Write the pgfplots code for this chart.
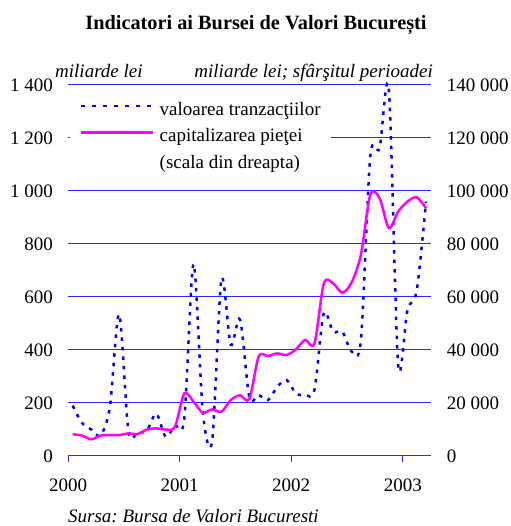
\documentclass[border=0pt]{standalone}
\usepackage{fontspec}
\setmainfont{Liberation Serif}
\usepackage{pgfplots}
\pgfplotsset{compat=1.18}
\definecolor{sblue}{RGB}{0,0,255}
\definecolor{gblue}{RGB}{40,40,255}
\definecolor{mypink}{RGB}{255,0,255}
\newcommand{\fs}{\fontsize{19bp}{23bp}\selectfont}
\frenchspacing
\begin{document}
\begin{tikzpicture}
\useasboundingbox (0bp,0bp) rectangle (511bp,526bp);
\node[anchor=base, inner sep=0pt, font=\fontsize{20.3bp}{24bp}\selectfont\bfseries] at (256bp,496bp) {Indicatori ai Bursei de Valori București};
\node[anchor=base west, inner sep=0pt, font=\fs\itshape] at (55bp,448.3bp) {miliarde lei};
\node[anchor=base east, inner sep=0pt, font=\fs\itshape] at (433bp,448.3bp) {miliarde lei; sfârşitul perioadei};
\node[anchor=base west, inner sep=0pt, font=\fs\itshape] at (68bp,4bp) {Sursa: Bursa de Valori Bucuresti};

\begin{axis}[
  at={(68bp,70bp)}, anchor=south west, scale only axis,
  width=362.7bp, height=371bp,
  xmin=0, xmax=39, ymin=0, ymax=1400, clip=false,
  axis x line*=bottom, axis y line*=left,
  x axis line style={-, draw=gblue, line width=1bp},
  y axis line style={draw=none},
  xtick={0,12,24,36}, xticklabels={2000,2001,2002,2003},
  ytick={0,200,400,600,800,1000,1200,1400},
  yticklabels={0,200,400,600,800,1 000,1 200,1 400},
  scaled y ticks=false,
  xtick align=outside, ytick align=inside,
  major tick length=6bp,
  tick style={draw=gblue, line width=1bp},
  ymajorgrids, grid style={draw=gblue, line width=1bp},
  ticklabel style={font=\fs},
  yticklabel style={anchor=east, inner sep=0pt, xshift=-15bp},
  xticklabel style={anchor=north, inner sep=0pt, yshift=-17bp},
]
\addplot[sblue, line width=2.5bp, dash pattern=on 3.5bp off 6bp, smooth, tension=0.5] coordinates {
(0.5,190) (1.5,125) (2.5,100) (3.5,78) (4.5,185) (5.5,535) (6.5,95) (7.5,88)
(8.5,98) (9.5,160) (10.5,73) (11.5,115) (12.5,140) (13.5,725) (14.5,165) (15.5,58)
(16.5,668) (17.5,420) (18.5,515) (19.5,222) (20.5,230) (21.5,211) (22.5,261) (23.5,287)
(24.5,237) (25.5,230) (26.5,250) (27.5,538) (28.5,469) (29.5,469) (30.5,394) (31.5,438)
(32.5,1130) (33.5,1161) (34.5,1382) (35.5,345) (36.5,551) (37.5,626) (38.5,960)
};
\end{axis}

\begin{axis}[
  at={(68bp,70bp)}, anchor=south west, scale only axis,
  width=362.7bp, height=371bp,
  xmin=0, xmax=39, ymin=0, ymax=140000, clip=false,
  axis y line*=right, hide x axis,
  y axis line style={draw=none},
  ytick={0,20000,40000,60000,80000,100000,120000,140000},
  yticklabels={0,20 000,40 000,60 000,80 000,100 000,120 000,140 000},
  scaled y ticks=false,
  ytick align=inside, major tick length=6bp,
  tick style={draw=gblue, line width=1bp},
  ticklabel style={font=\fs},
  yticklabel style={anchor=west, inner sep=0pt, xshift=16bp},
  legend image code/.code={\draw[#1] (0bp,5bp) -- (72bp,5bp);},
  legend cell align=left,
  legend style={at={(rel axis cs:0.0055,0.973)}, anchor=north west,
    draw=none, fill=white, font=\fs, inner xsep=10bp, inner ysep=6bp,
    row sep=6.5bp, column sep=5bp,
    nodes={inner sep=0pt, text height=14bp, text depth=6bp}},
]
\addlegendimage{sblue, line width=2.5bp, dash pattern=on 3.5bp off 7.5bp}
\addlegendentry{valoarea tranzacţiilor}
\addplot[mypink, line width=2.5bp, smooth, tension=0.5] coordinates {
(0.5,8200) (1.5,7700) (2.5,6300) (3.5,7700) (4.5,7900) (5.5,7900) (6.5,8500) (7.5,8300)
(8.5,10000) (9.5,10400) (10.5,10000) (11.5,11000) (12.5,23600) (13.5,20500) (14.5,16300) (15.5,17600)
(16.5,16700) (17.5,21100) (18.5,22900) (19.5,21500) (20.5,37500) (21.5,37700) (22.5,38700) (23.5,38100)
(24.5,40200) (25.5,43800) (26.5,42500) (27.5,65000) (28.5,65200) (29.5,61600) (30.5,65500) (31.5,76000)
(32.5,98500) (33.5,97300) (34.5,86000) (35.5,92200) (36.5,96000) (37.5,97600) (38.5,93500)
};
\addlegendentry{capitalizarea pieţei}
\addlegendimage{empty legend}
\addlegendentry{(scala din dreapta)}
\end{axis}
\end{tikzpicture}
\end{document}
